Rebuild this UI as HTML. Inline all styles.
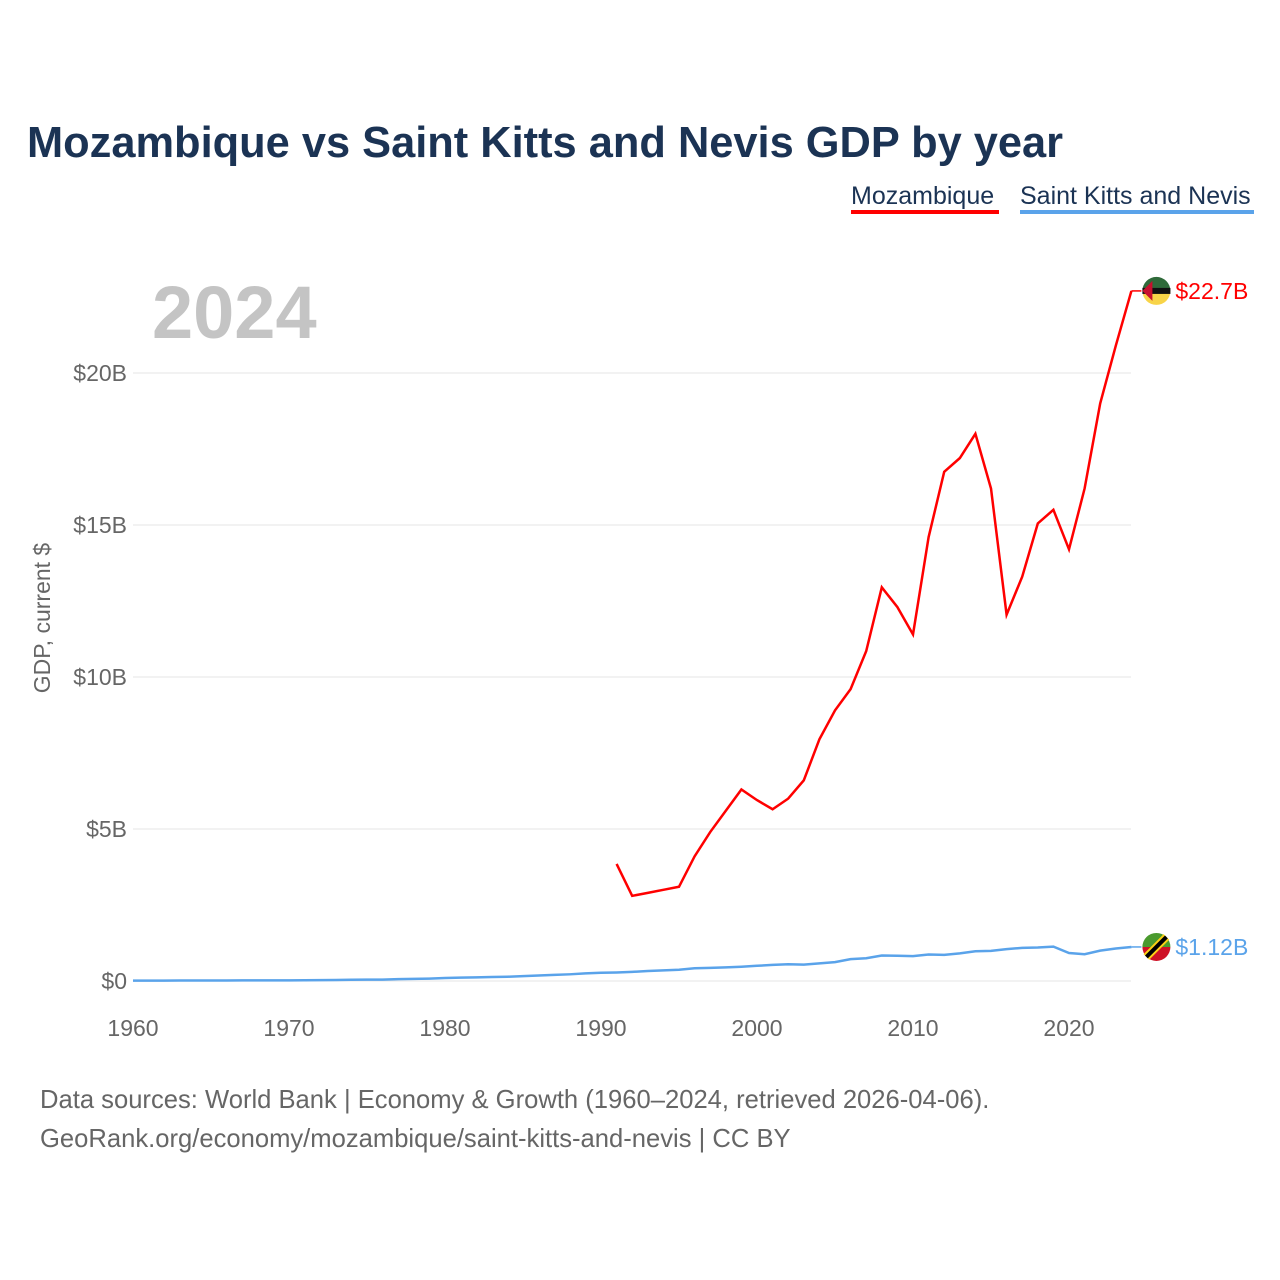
<!DOCTYPE html>
<html><head><meta charset="utf-8"><style>
body{margin:0;background:#fff;font-family:"Liberation Sans",sans-serif;}
#wrap{position:relative;width:1280px;height:1280px;overflow:hidden}
</style></head><body>
<div id="wrap">
<svg id="chart" width="1280" height="1280">
<text x="27" y="157" font-size="43.4" font-weight="bold" fill="#1b3354">Mozambique vs Saint Kitts and Nevis GDP by year</text>
<g><text x="851" y="204" font-size="25" fill="#1b3354">Mozambique</text><rect x="851" y="210" width="148" height="4" fill="#ff0000"/></g>
<g><text x="1020" y="204" font-size="25" fill="#1b3354">Saint Kitts and Nevis</text><rect x="1020" y="210" width="234" height="4" fill="#5aa3ea"/></g>
<text x="152" y="338" font-size="74" font-weight="bold" fill="#c4c4c4">2024</text>
<text transform="translate(50,618) rotate(-90)" text-anchor="middle" font-size="23" fill="#666">GDP, current $</text>
<g id="grid"></g><g id="ticks"></g><g id="series"></g>
<text x="40" y="1108" font-size="25.6" fill="#666">Data sources: World Bank | Economy &amp; Growth (1960–2024, retrieved 2026-04-06).</text>
<text x="40" y="1147" font-size="25.6" fill="#666">GeoRank.org/economy/mozambique/saint-kitts-and-nevis | CC BY</text>
</svg></div>
<script>
const yTicks=[0,5,10,15,20];
const yTickLabels=["$0","$5B","$10B","$15B","$20B"];
const xTicks=[1960,1970,1980,1990,2000,2010,2020];
const mozYears=[1991,1992,1993,1994,1995,1996,1997,1998,1999,2000,2001,2002,2003,2004,2005,2006,2007,2008,2009,2010,2011,2012,2013,2014,2015,2016,2017,2018,2019,2020,2021,2022,2023,2024];
const mozValues=[3.85,2.8,2.9,3.0,3.1,4.1,4.9,5.6,6.3,5.95,5.65,6.0,6.6,7.95,8.9,9.6,10.85,12.95,12.3,11.4,14.6,16.75,17.2,18.0,16.2,12.05,13.3,15.05,15.5,14.2,16.2,19.0,20.9,22.7];
const sknStartYear=1960;
const sknValues=[0.012,0.013,0.014,0.015,0.016,0.017,0.018,0.019,0.02,0.021,0.022,0.024,0.03,0.034,0.04,0.045,0.045,0.06,0.07,0.08,0.1,0.11,0.12,0.13,0.14,0.16,0.18,0.2,0.22,0.25,0.27,0.28,0.3,0.33,0.35,0.37,0.42,0.43,0.45,0.47,0.5,0.53,0.55,0.54,0.58,0.62,0.72,0.75,0.84,0.83,0.82,0.87,0.86,0.91,0.98,0.99,1.05,1.09,1.1,1.13,0.92,0.88,1.0,1.07,1.12];
const NS="http://www.w3.org/2000/svg";
const X=y=>133+(y-1960)*15.6;
const Y=v=>981-v*30.4;
function mk(tag,attrs,parent){const e=document.createElementNS(NS,tag);for(const k in attrs)e.setAttribute(k,attrs[k]);parent.appendChild(e);return e;}
const grid=document.getElementById('grid'),ticks=document.getElementById('ticks'),series=document.getElementById('series');
yTicks.forEach((t,i)=>{
 const l=mk('line',{x1:133,x2:1131,y1:Y(t),y2:Y(t),stroke:'#e6e6e6','stroke-width':1},grid);
 
 
 const tx=mk('text',{x:127,y:Y(t)+8,'text-anchor':'end','font-size':23,fill:'#666'},ticks);
 tx.textContent=yTickLabels[i];
 
 
});
xTicks.forEach(t=>{
 const tx=mk('text',{x:X(t),y:1036,'text-anchor':'middle','font-size':23,fill:'#666'},ticks);
 tx.textContent=t;
 
 
});
const sp=sknValues.map((v,i)=>X(sknStartYear+i)+','+Y(v)).join(' ');
const s1=mk('polyline',{points:sp,fill:'none',stroke:'#5aa3ea','stroke-width':2.5},series);


const mp=mozValues.map((v,i)=>X(mozYears[i])+','+Y(v)).join(' ');
const s2=mk('polyline',{points:mp,fill:'none',stroke:'#ff0000','stroke-width':2.5},series);


function endLabel(val,color,text,name,flag){
 const y=Y(val),x=X(2024);
 const l=mk('line',{x1:x,x2:x+10,y1:y,y2:y,stroke:color,'stroke-width':1.5},series);
 
 
 const g=mk('g',{},series);
 
 
 if(flag==='moz'){
  mk('path',{d:`M${x+11},${y} a14,14 0 0 1 28,0z`,fill:'#2f6a3a'},g);
  mk('path',{d:`M${x+11},${y} a14,14 0 0 0 28,0z`,fill:'#f8d448'},g);
  mk('rect',{x:x+11,y:y-3,width:28,height:6,fill:'#111'},g);
  mk('path',{d:`M${x+11},${y} l10,-10 v20z`,fill:'#c8102e'},g);
 }else{
  mk('path',{d:`M${x+11},${y} a14,14 0 0 1 28,0z`,fill:'#4a9a2e'},g);
  mk('path',{d:`M${x+11},${y} a14,14 0 0 0 28,0z`,fill:'#ce1126'},g);
  mk('line',{x1:x+15,y1:y+10,x2:x+35,y2:y-10,stroke:'#fcd116','stroke-width':8},g);
  mk('line',{x1:x+15,y1:y+10,x2:x+35,y2:y-10,stroke:'#000','stroke-width':4},g);
 }
 const t=mk('text',{x:x+44,y:y+8,'font-size':23,fill:color},series);
 t.textContent=text;
 
 
}
endLabel(mozValues[mozValues.length-1],'#ff0000','$22.7B','mozambique','moz');
endLabel(sknValues[sknValues.length-1],'#5aa3ea','$1.12B','saint-kitts','skn');
</script>
</body></html>
